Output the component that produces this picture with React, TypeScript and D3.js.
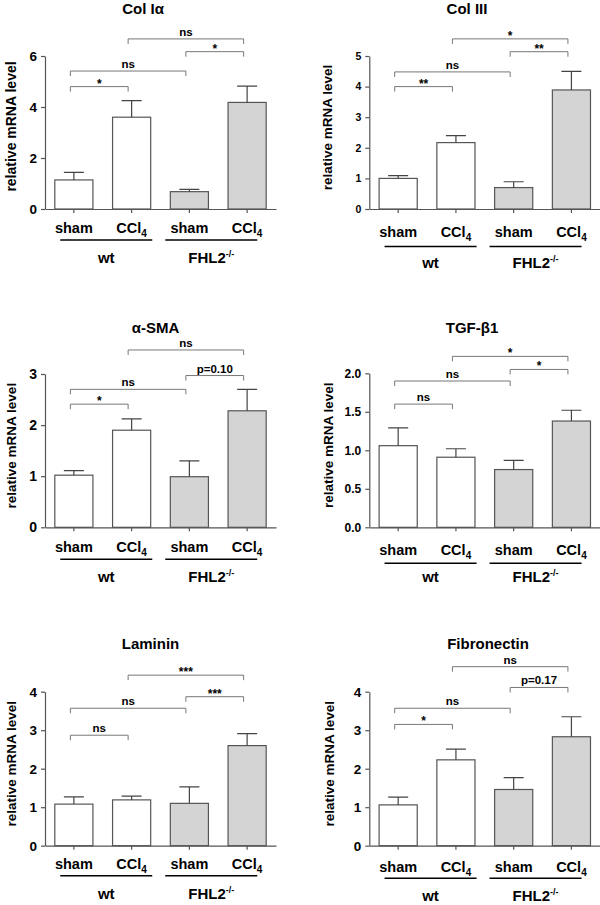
import React, { useRef, useEffect } from 'react';
import * as d3 from 'd3';

// groups on the x axis
const categories = ['sham', 'CCl4', 'sham', 'CCl4'];
const genotypes = ['wt', 'FHL2'];

// mean and SEM per group
const colIaMean = [1.14, 3.6, 0.68, 4.18];
const colIaSem = [0.3, 0.65, 0.09, 0.64];
const colIIIMean = [1.0, 2.17, 0.7, 3.89];
const colIIISem = [0.09, 0.23, 0.19, 0.61];
const smaMean = [1.02, 1.9, 0.99, 2.28];
const smaSem = [0.09, 0.22, 0.31, 0.42];
const tgfMean = [1.06, 0.91, 0.75, 1.38];
const tgfSem = [0.23, 0.11, 0.12, 0.14];
const lamininMean = [1.08, 1.19, 1.1, 2.6];
const lamininSem = [0.19, 0.1, 0.43, 0.31];
const fibroMean = [1.06, 2.23, 1.46, 2.83];
const fibroSem = [0.2, 0.28, 0.31, 0.52];

// significance brackets: [from, to, level (data units), label]
const colIaSig = [[0, 1, 4.8, '*'], [0, 2, 5.41, 'ns'], [2, 3, 6.17, '*'], [1, 3, 6.67, 'ns']];
const colIIISig = [[0, 1, 4.0, '**'], [0, 2, 4.48, 'ns'], [2, 3, 5.14, '**'], [1, 3, 5.56, '*']];
const smaSig = [[0, 1, 2.41, '*'], [0, 2, 2.7, 'ns'], [2, 3, 2.97, 'p=0.10'], [1, 3, 3.47, 'ns']];
const tgfSig = [[0, 1, 1.6, 'ns'], [0, 2, 1.9, 'ns'], [2, 3, 2.05, '*'], [1, 3, 2.22, '*']];
const lamininSig = [[0, 1, 2.87, 'ns'], [0, 2, 3.57, 'ns'], [2, 3, 3.87, '***'], [1, 3, 4.43, '***']];
const fibroSig = [[0, 1, 3.15, '*'], [0, 2, 3.57, 'ns'], [2, 3, 4.11, 'p=0.17'], [1, 3, 4.65, 'ns']];

// y axis ticks
const colIaTicks = [0, 2, 4, 6];
const colIIITicks = [0, 1, 2, 3, 4, 5];
const smaTicks = [0, 1, 2, 3];
const tgfTicks = [0, 0.5, 1.0, 1.5, 2.0];
const lamininTicks = [0, 1, 2, 3, 4];
const fibroTicks = [0, 1, 2, 3, 4];

const panels = [
  { title: 'Col Iα', mean: colIaMean, sem: colIaSem, sig: colIaSig, ticks: colIaTicks, fmt: 'd' },
  { title: 'Col III', mean: colIIIMean, sem: colIIISem, sig: colIIISig, ticks: colIIITicks, fmt: 'd' },
  { title: 'α-SMA', mean: smaMean, sem: smaSem, sig: smaSig, ticks: smaTicks, fmt: 'd' },
  { title: 'TGF-β1', mean: tgfMean, sem: tgfSem, sig: tgfSig, ticks: tgfTicks, fmt: '.1f' },
  { title: 'Laminin', mean: lamininMean, sem: lamininSem, sig: lamininSig, ticks: lamininTicks, fmt: 'd' },
  { title: 'Fibronectin', mean: fibroMean, sem: fibroSem, sig: fibroSig, ticks: fibroTicks, fmt: 'd' },
];

// where each panel sits on the page
const layout = [
  { x0: 45, top: 56, zero: 209, tickFont: 13.5, titleX: 143, titleY: 14, catDy: 24, lineDy: 31, grpDy: 54, ylabX: 11, ylabDy: -6, ylabFont: 14 },
  { x0: 369.3, top: 56, zero: 209, tickFont: 10.5, titleX: 467, titleY: 14, catDy: 28, lineDy: 37.5, grpDy: 59, ylabX: 327.5, ylabDy: -5, ylabFont: 13.5 },
  { x0: 45, top: 374, zero: 527.3, tickFont: 14, titleX: 155.5, titleY: 332.5, catDy: 24.5, lineDy: 32, grpDy: 54.5, ylabX: 11, ylabDy: -5, ylabFont: 13.5 },
  { x0: 369.3, top: 373.3, zero: 527.3, tickFont: 12, titleX: 472, titleY: 332.5, catDy: 27.5, lineDy: 36, grpDy: 54.5, ylabX: 328, ylabDy: -5, ylabFont: 13.5 },
  { x0: 45, top: 691.7, zero: 845.7, tickFont: 13.5, titleX: 150.5, titleY: 649.3, catDy: 22.8, lineDy: 30, grpDy: 53.5, ylabX: 11, ylabDy: -5, ylabFont: 13.5 },
  { x0: 369.3, top: 691.7, zero: 845.7, tickFont: 13.5, titleX: 488, titleY: 649.3, catDy: 26, lineDy: 32.6, grpDy: 55.5, ylabX: 329, ylabDy: -5, ylabFont: 13.5 },
];

const FONT = '"Liberation Sans", Arial, Helvetica, sans-serif';
const PLOT_W = 231;

const App = () => {
  const svgRef = useRef(null);

  useEffect(() => {
    const svg = d3.select(svgRef.current);
    svg.selectAll('*').remove();

    panels.forEach((p, i) => {
      const L = layout[i];
      const g = svg.append('g').attr('font-family', FONT);

      const x = d3.scaleBand()
        .domain(d3.range(categories.length))
        .range([L.x0, L.x0 + PLOT_W])
        .paddingInner(0.34)
        .paddingOuter(0.17);
      const cx = d => x(d) + x.bandwidth() / 2;

      const y = d3.scaleLinear()
        .domain([0, d3.max(p.ticks)])
        .range([L.zero, L.top]);

      // title
      g.append('text')
        .attr('x', L.titleX)
        .attr('y', L.titleY)
        .attr('text-anchor', 'middle')
        .attr('font-size', 15)
        .attr('font-weight', 'bold')
        .text(p.title);

      // bars
      g.selectAll('.bar')
        .data(p.mean)
        .enter()
        .append('rect')
        .attr('x', (d, j) => x(j))
        .attr('y', d => y(d))
        .attr('width', x.bandwidth())
        .attr('height', d => L.zero - y(d))
        .attr('fill', (d, j) => (j < 2 ? '#ffffff' : '#d4d4d4'))
        .attr('stroke', '#555')
        .attr('stroke-width', 1.2);

      // upper error bars
      p.mean.forEach((m, j) => {
        const top = y(m + p.sem[j]);
        g.append('path')
          .attr('d', `M${cx(j)},${y(m)}V${top}M${cx(j) - 10},${top}H${cx(j) + 10}`)
          .attr('stroke', '#444')
          .attr('stroke-width', 1.2)
          .attr('fill', 'none');
      });

      // y axis
      const yAxis = d3.axisLeft(y)
        .tickValues(p.ticks)
        .tickSize(4)
        .tickSizeOuter(0)
        .tickPadding(4)
        .tickFormat(d3.format(p.fmt));
      const ya = g.append('g')
        .attr('transform', `translate(${L.x0},0)`)
        .call(yAxis);
      ya.select('.domain').attr('stroke', '#555').attr('stroke-width', 1.2);
      ya.selectAll('line').attr('stroke', '#555').attr('stroke-width', 1.2);
      ya.selectAll('text')
        .attr('font-family', FONT)
        .attr('font-size', L.tickFont)
        .attr('font-weight', 'bold')
        .attr('fill', '#000');

      // x axis
      const xAxis = d3.axisBottom(x).tickSize(4).tickSizeOuter(0).tickFormat(() => '');
      const xa = g.append('g')
        .attr('transform', `translate(0,${L.zero})`)
        .call(xAxis);
      xa.select('.domain').attr('stroke', '#555').attr('stroke-width', 1.2);
      xa.selectAll('line').attr('stroke', '#555').attr('stroke-width', 1.2);

      // y label
      g.append('text')
        .attr('transform', `translate(${L.ylabX},${(L.top + L.zero) / 2 + L.ylabDy}) rotate(-90)`)
        .attr('text-anchor', 'middle')
        .attr('dominant-baseline', 'central')
        .attr('font-size', L.ylabFont)
        .attr('font-weight', 'bold')
        .text('relative mRNA level');

      // category labels
      categories.forEach((c, j) => {
        const t = g.append('text')
          .attr('x', cx(j))
          .attr('y', L.zero + L.catDy)
          .attr('text-anchor', 'middle')
          .attr('font-size', 14.5)
          .attr('font-weight', 'bold');
        if (c === 'CCl4') {
          t.append('tspan').text('CCl');
          t.append('tspan').attr('dy', 4).attr('font-size', 10).text('4');
        } else {
          t.text(c);
        }
      });

      // genotype underline and label
      const shift = [3.5, -7];
      genotypes.forEach((gt, k) => {
        const mid = (cx(2 * k) + cx(2 * k + 1)) / 2 + shift[k];
        g.append('line')
          .attr('x1', mid - 46)
          .attr('x2', mid + 46)
          .attr('y1', L.zero + L.lineDy)
          .attr('y2', L.zero + L.lineDy)
          .attr('stroke', '#000')
          .attr('stroke-width', 1.5);
        const t = g.append('text')
          .attr('x', mid)
          .attr('y', L.zero + L.grpDy)
          .attr('text-anchor', 'middle')
          .attr('font-size', 15)
          .attr('font-weight', 'bold');
        if (gt === 'FHL2') {
          t.append('tspan').text('FHL2');
          t.append('tspan').attr('dy', -6).attr('font-size', 9).text('-/-');
        } else {
          t.text(gt);
        }
      });

      // significance brackets
      p.sig.forEach(([a, b, lev, lab]) => {
        const xa1 = cx(a) - 3.5;
        const xb1 = cx(b) - 3.5;
        const yl = y(lev);
        g.append('path')
          .attr('d', `M${xa1},${yl + 5}V${yl}H${xb1}V${yl + 5}`)
          .attr('stroke', '#777')
          .attr('stroke-width', 1)
          .attr('fill', 'none');
        const star = lab.startsWith('*');
        g.append('text')
          .attr('x', (xa1 + xb1) / 2)
          .attr('y', star ? yl + 1 : yl - 3)
          .attr('text-anchor', 'middle')
          .attr('font-size', star ? 12 : 11.5)
          .attr('font-weight', 'bold')
          .text(lab);
      });
    });
  }, []);

  return (
    <svg
      ref={svgRef}
      width={600}
      height={905}
      style={{ position: 'absolute', left: 0, top: 0, background: '#fff' }}
    />
  );
};

export default App;
